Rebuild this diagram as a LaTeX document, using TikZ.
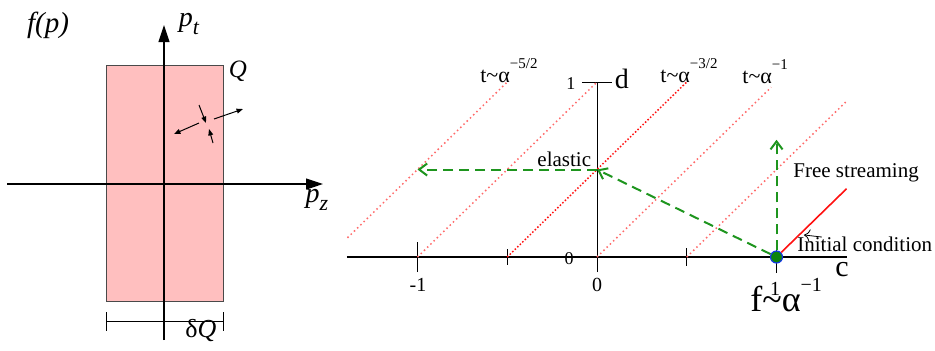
\documentclass[tikz,border=0pt]{standalone}
\usepackage{fontspec}
\setmainfont{Liberation Serif}
\usepackage{tikz}
\usetikzlibrary{
  arrows.meta,
  positioning,
  calc,
}
\definecolor{boxFill}{HTML}{FFBFBF}
\definecolor{boxEdge}{HTML}{4A4A4A}
\definecolor{pathGreen}{HTML}{1E951E}
\definecolor{traceRed}{HTML}{FF1010}
\definecolor{traceLight}{HTML}{FF6A6A}
\definecolor{dotBlue}{HTML}{1438E6}
\definecolor{dotGreen}{HTML}{0C840C}

\newcommand{\fsz}[1]{\fontsize{#1}{#1}\selectfont}

\begin{document}
\begin{tikzpicture}[x=0.5pt, y=-0.5pt,
  axisline/.style={line width=0.6pt, -{Triangle[length=8.5pt,width=5.5pt]}},
  kickline/.style={line width=0.5pt, -{Triangle[length=3.2pt,width=2.4pt]}},
  greenpath/.style={draw=pathGreen, line width=1pt, dash pattern=on 5pt off 3pt,
                    -{Straight Barb[length=4pt,width=6pt]}},
  tracedot/.style={line width=0.75pt, dash pattern=on 0.75pt off 1.5pt, draw=traceLight},
  lbl/.style={inner sep=0pt, font=\fsz{10.5}},
]
\useasboundingbox (0,0) rectangle (935,350);

% momentum distribution box
\node[draw=boxEdge, fill=boxFill, line width=0.5pt, inner sep=0pt,
      minimum width=58.5pt, minimum height=118pt] (qbox) at (164.5,183) {};

% axes p_z, p_t
\coordinate (pzStart) at (7,184);
\coordinate (pzEnd) at (323,184);
\coordinate (ptStart) at (164,340);
\coordinate (ptEnd) at (164,25);
\draw[axisline] (pzStart) -- (pzEnd);
\draw[axisline] (ptStart) -- (ptEnd);

\node[lbl, font=\fsz{14.5}\itshape] (fp) at (48,25) {f(p)};
\node[lbl, font=\fsz{14}\itshape] (ptLbl) at (189,24)
  {p\raisebox{-4pt}{\fsz{11}t}};
\node[lbl, font=\fsz{14}\itshape] (pzLbl) at (317,200)
  {p\raisebox{-4pt}{\fsz{11}z}};
\node[lbl, font=\fsz{12.5}\itshape] (qLbl) at (238,71) {Q};
\node[lbl, font=\fsz{13}] (dqLbl) at (201,331) {δ\textit{Q}};

% width of the box
\coordinate (dqL) at (106,321);
\coordinate (dqR) at (223,321);
\draw[line width=0.5pt] (dqL) -- (dqR);
\draw[line width=0.5pt] (dqL) ++(0,-9) -- ++(0,19);
\draw[line width=0.5pt] (dqR) ++(0,-9) -- ++(0,19);

% scattering kicks
\foreach \ax/\ay/\bx/\by [count=\i] in {%
  199/105/206/123,%
  213/143/209/129,%
  214/119/243/109,%
  199/123/174/134%
}
{
  \coordinate (kickA\i) at (\ax,\ay);
  \coordinate (kickB\i) at (\bx,\by);
  \draw[kickline] (kickA\i) -- (kickB\i);
}

% ---- evolution plane (c,d) ----
\begin{scope}[shift={(597,257)}, x=89.75pt, y=87.5pt]

\coordinate (cLeft) at (-1.393,0);
\coordinate (cRight) at (1.393,0);
\coordinate (dBot) at (0,-0.086);
\coordinate (dTop) at (0,1);
\draw[line width=0.6pt] (cLeft) -- (cRight);
\draw[line width=0.5pt] (dBot) -- (dTop);
\draw[line width=0.5pt] (-0.084,1) -- (0.084,1);
\foreach \c/\h in {-1/0.086, -0.5/0.045, 0.5/0.05, 1/0.09}
  \draw[line width=0.5pt] (\c,-\h) -- (\c,\h);

% lines of constant time
\foreach \sc/\sd/\ec/\ed in {%
  -1.39/0.11/-0.5/1,%
  -1/0/0/1,%
  0/0/0.97/0.97,%
  0.5/0/1.39/0.89%
}
{
  \draw[tracedot] (\sc,\sd) -- (\ec,\ed);
}
\draw[tracedot, draw=traceRed, dash pattern=on 0.75pt off 1pt] (-0.5,0) -- (0.5,1);

\node[lbl, font=\fsz{11}, anchor=base west] (t52) at (-0.652,1.0)
  {t\textasciitilde α\raisebox{7pt}{\fsz{7.5}−5/2}};
\node[lbl, font=\fsz{11}, anchor=base west] (t32) at (0.351,1.0)
  {t\textasciitilde α\raisebox{7pt}{\fsz{7.5}−3/2}};
\node[lbl, font=\fsz{11}, anchor=base west] (t1) at (0.808,0.994)
  {t\textasciitilde α\raisebox{7pt}{\fsz{7.5}−1}};

% tick labels
\node[lbl, font=\fsz{10}] (tkm1) at (-0.997,-0.16) {-1};
\node[lbl, font=\fsz{10}] (tk0) at (0,-0.16) {0};
\node[lbl, font=\fsz{10}] (tk1) at (0.992,-0.18) {1};
\node[lbl, font=\fsz{9}] (dk0) at (-0.156,-0.011) {0};
\node[lbl, font=\fsz{9}] (dk1) at (-0.145,0.994) {1};
\node[lbl, font=\fsz{14}] (dLbl) at (0.139,1.017) {d};
\node[lbl, font=\fsz{15}] (cLbl) at (1.365,-0.074) {c};
\node[lbl, font=\fsz{18}, anchor=base west] (fLbl) at (0.852,-0.314)
  {f\textasciitilde α\raisebox{10pt}{\fsz{10}−1}};

% initial condition
\node[circle, fill=dotGreen, draw=dotBlue, line width=0.6pt,
      minimum size=6pt, inner sep=0pt] (ic) at (1,0) {};

\coordinate (elasticPt) at (0,0.5);
\coordinate (elasticEnd) at (-1,0.5);
\coordinate (upEnd) at (1,0.67);
\coordinate (fsEnd) at (1.39,0.39);
\draw[greenpath] (ic) -- (elasticPt);
\draw[greenpath] (elasticPt) -- (elasticEnd);
\draw[greenpath] (ic) -- (upEnd);
\draw[draw=traceRed, line width=0.8pt] (ic) -- (fsEnd);

\node[lbl, anchor=base west] (elastic) at (-0.334,0.520) {elastic};
\node[lbl, anchor=base west] (freeStr) at (1.092,0.457) {Free streaming};
\node[lbl, anchor=base west] (initCond) at (1.114,0.029) {Initial condition};

\coordinate (icTail) at (1.253,0.114);
\coordinate (icTip) at (1.153,0.126);
\draw[line width=0.4pt, -{To[length=3pt]}] (icTail) -- (icTip);

\end{scope}

\end{tikzpicture}
\end{document}
